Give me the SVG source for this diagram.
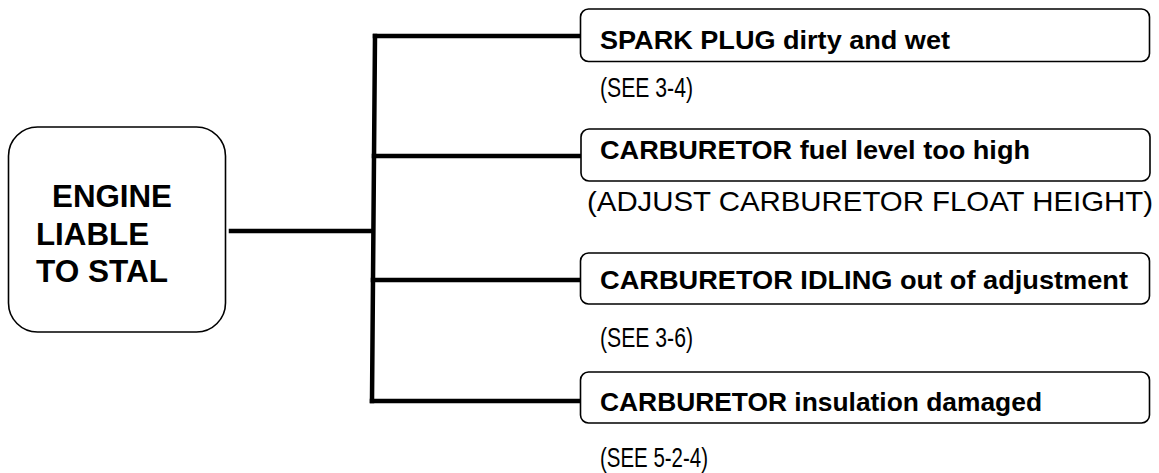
<svg xmlns="http://www.w3.org/2000/svg" width="1159" height="473" viewBox="0 0 1159 473">
<style>
.box{fill:#fff;stroke:#000;stroke-width:1.6}
.conn{stroke:#000;stroke-width:4.5;fill:none;stroke-linecap:square}
.b{font-family:"Liberation Sans",Arial,sans-serif;font-weight:bold;font-size:25px;fill:#000}
.big{font-family:"Liberation Sans",Arial,sans-serif;font-weight:bold;font-size:31px;fill:#000}
.r{font-family:"Liberation Sans",Arial,sans-serif;font-size:28px;fill:#000}
</style>
<rect width="1159" height="473" fill="#fff"/>
<g id="connectors">
<line class="conn" x1="231" y1="231" x2="372" y2="231"/>
<line class="conn" x1="375" y1="36" x2="372" y2="401"/>
<line class="conn" x1="375" y1="36" x2="580" y2="36"/>
<line class="conn" x1="374" y1="156" x2="580" y2="156"/>
<line class="conn" x1="373" y1="280" x2="580" y2="280"/>
<line class="conn" x1="372" y1="401" x2="580" y2="401"/>
</g>
<g id="engine">
<rect class="box" x="8.5" y="127" width="217" height="205" rx="29"/>
<text class="big" x="52" y="207" textLength="120" lengthAdjust="spacingAndGlyphs">ENGINE</text>
<text class="big" x="36" y="245" textLength="113" lengthAdjust="spacingAndGlyphs">LIABLE</text>
<text class="big" x="36" y="282" textLength="132" lengthAdjust="spacingAndGlyphs">TO STAL</text>
</g>
<g id="spark">
<rect class="box" x="580.5" y="9" width="569" height="52.5" rx="8"/>
<text class="b" x="600" y="49" textLength="350" lengthAdjust="spacingAndGlyphs">SPARK PLUG dirty and wet</text>
<text class="r" x="600" y="97" textLength="93" lengthAdjust="spacingAndGlyphs">(SEE 3-4)</text>
</g>
<g id="fuel">
<rect class="box" x="581" y="129" width="569" height="52" rx="8"/>
<text class="b" x="600" y="159" textLength="430" lengthAdjust="spacingAndGlyphs">CARBURETOR fuel level too high</text>
<text class="r" x="587" y="211" textLength="566" lengthAdjust="spacingAndGlyphs">(ADJUST CARBURETOR FLOAT HEIGHT)</text>
</g>
<g id="idling">
<rect class="box" x="580.5" y="253" width="569" height="51" rx="8"/>
<text class="b" x="600" y="289" textLength="528" lengthAdjust="spacingAndGlyphs">CARBURETOR IDLING out of adjustment</text>
<text class="r" x="600" y="347" textLength="93" lengthAdjust="spacingAndGlyphs">(SEE 3-6)</text>
</g>
<g id="insulation">
<rect class="box" x="580.5" y="372" width="569" height="51" rx="8"/>
<text class="b" x="600" y="411" textLength="442" lengthAdjust="spacingAndGlyphs">CARBURETOR insulation damaged</text>
<text class="r" x="600" y="467" textLength="108" lengthAdjust="spacingAndGlyphs">(SEE 5-2-4)</text>
</g>
</svg>
